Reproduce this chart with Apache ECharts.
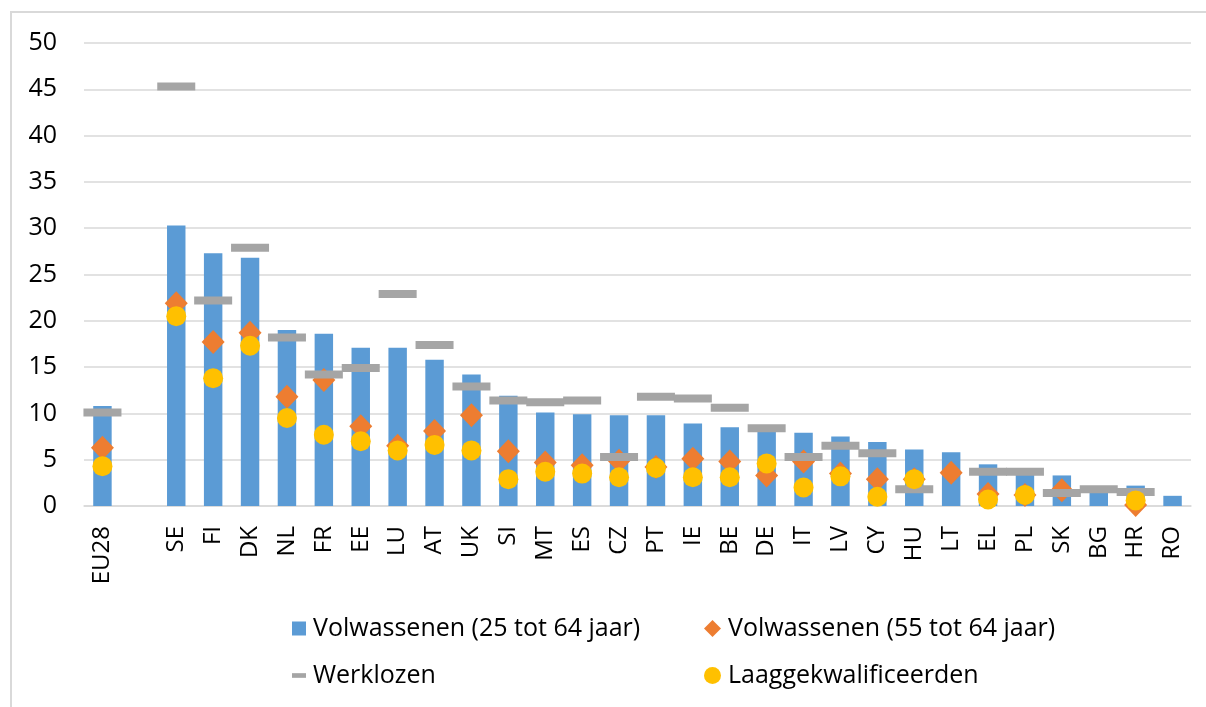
<!DOCTYPE html>
<html>
<head>
<meta charset="utf-8">
<script src="https://cdn.jsdelivr.net/npm/echarts@6/dist/echarts.min.js"></script>
<style>
  html, body { margin: 0; padding: 0; background: #fff; }
  #frame { position: absolute; left: 10px; top: 11px; width: 1196px; height: 696px;
           border-left: 2px solid #D9D9D9; border-top: 2px solid #D9D9D9; box-sizing: border-box; }
  #main { width: 1206px; height: 707px; position: absolute; left: 0; top: 0; }
</style>
</head>
<body>
<div id="frame"></div>
<div id="main"></div>
<script>
// categories (empty slot between EU28 and the countries)
const countries = ['EU28', '', 'SE', 'FI', 'DK', 'NL', 'FR', 'EE', 'LU', 'AT', 'UK', 'SI', 'MT', 'ES', 'CZ',
    'PT', 'IE', 'BE', 'DE', 'IT', 'LV', 'CY', 'HU', 'LT', 'EL', 'PL', 'SK', 'BG', 'HR', 'RO'];

// Volwassenen (25 tot 64 jaar)
const adults25_64 = [10.8, '-', 30.3, 27.3, 26.8, 19.0, 18.6, 17.1, 17.1, 15.8, 14.2, 11.9, 10.1, 9.9, 9.8,
    9.8, 8.9, 8.5, 8.2, 7.9, 7.5, 6.9, 6.1, 5.8, 4.5, 3.6, 3.3, 1.8, 2.2, 1.1];
// Volwassenen (55 tot 64 jaar)
const adults55_64 = [6.3, '-', 21.9, 17.7, 18.7, 11.8, 13.6, 8.6, 6.5, 8.1, 9.8, 5.9, 4.7, 4.4, 4.9,
    4.2, 5.1, 4.8, 3.3, 4.8, 3.5, 2.9, 2.9, 3.6, 1.3, 1.2, 1.7, '-', 0.1, '-'];
// Werklozen
const unemployed = [10.1, '-', 45.3, 22.2, 27.9, 18.2, 14.2, 14.9, 22.9, 17.4, 12.9, 11.4, 11.2, 11.4, 5.3,
    11.8, 11.6, 10.6, 8.4, 5.3, 6.5, 5.7, 1.8, '-', 3.7, 3.7, 1.4, 1.8, 1.5, '-'];
// Laaggekwalificeerden
const lowSkilled = [4.3, '-', 20.5, 13.8, 17.3, 9.5, 7.7, 7.0, 6.0, 6.6, 6.0, 2.9, 3.7, 3.5, 3.1,
    4.1, 3.1, 3.1, 4.6, 2.0, 3.2, 1.0, 2.9, '-', 0.7, 1.2, '-', '-', 0.6, '-'];

const yTicks = [0, 5, 10, 15, 20, 25, 30, 35, 40, 45, 50];

const FONT = '"Open Sans", sans-serif';
const names = ['Volwassenen (25 tot 64 jaar)', 'Volwassenen (55 tot 64 jaar)', 'Werklozen', 'Laaggekwalificeerden'];

let chart = echarts.init(document.getElementById('main'));

const legendText = { fontFamily: FONT, fontSize: 25, color: '#000', padding: [0, 0, 0, 2] };

let option = {
    animation: false,
    textStyle: { fontFamily: FONT, color: '#000' },
    grid: { left: 84, right: 15, top: 43, bottom: 201, containLabel: false },
    legend: [
        {
            orient: 'vertical', left: 287, top: 611, itemGap: 22,
            itemWidth: 14, itemHeight: 14,
            textStyle: legendText,
            data: [
                { name: names[0], icon: 'rect' },
                { name: names[2], icon: 'path://M0,0 L15,0 L15,5 L0,5 Z' }
            ]
        },
        {
            orient: 'vertical', left: 699, top: 611, itemGap: 22,
            itemWidth: 17, itemHeight: 17,
            textStyle: legendText,
            data: [
                { name: names[1], icon: 'diamond' },
                { name: names[3], icon: 'circle' }
            ]
        }
    ],
    xAxis: {
        type: 'category',
        data: countries,
        axisLine: { lineStyle: { color: '#D9D9D9', width: 1.5 } },
        axisTick: { show: false },
        axisLabel: { rotate: 90, margin: 20, fontSize: 24, color: '#000', fontFamily: FONT, interval: 0 }
    },
    yAxis: {
        type: 'value',
        min: 0, max: 50, interval: 5,
        axisLine: { show: false },
        axisTick: { show: false },
        splitLine: { lineStyle: { color: '#D9D9D9', width: 1.5 } },
        axisLabel: {
            margin: 27, fontSize: 25, color: '#000', fontFamily: FONT,
            formatter: v => yTicks.includes(v) ? String(v) : ''
        }
    },
    series: [
        {
            name: names[0], type: 'bar', data: adults25_64, barWidth: '50%',
            itemStyle: { color: '#5B9BD5' }, z: 1
        },
        {
            name: names[1], type: 'scatter', data: adults55_64,
            symbol: 'diamond', symbolSize: [23, 24],
            itemStyle: { color: '#ED7D31', opacity: 1 }, z: 2
        },
        {
            name: names[2], type: 'scatter', data: unemployed,
            symbol: 'rect', symbolSize: [38, 8],
            itemStyle: { color: '#A5A5A5', opacity: 1 }, z: 3
        },
        {
            name: names[3], type: 'scatter', data: lowSkilled,
            symbol: 'circle', symbolSize: 20,
            itemStyle: { color: '#FFC000', opacity: 1 }, z: 4
        }
    ]
};

chart.setOption(option);

window.onresize = () => {
    chart.resize();
};
</script>
</body>
</html>
